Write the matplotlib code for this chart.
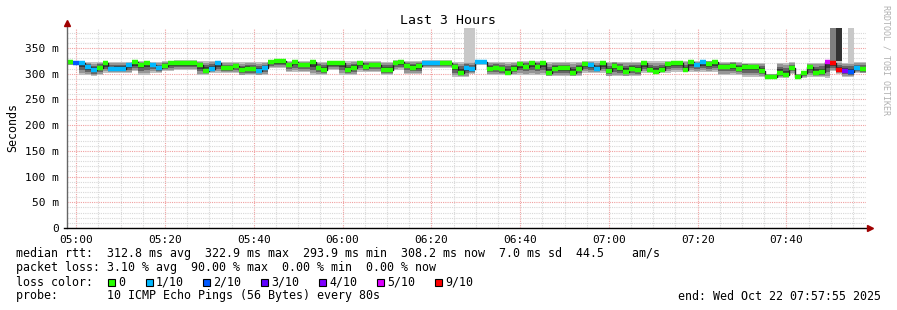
import datetime as dt
import matplotlib
matplotlib.use("Agg")
import matplotlib.pyplot as plt
import matplotlib.dates as mdates
from matplotlib.patches import Rectangle
from matplotlib.lines import Line2D

# --- data (one value per 80 s step, 04:57:55 -> 07:57:55) ---
start = dt.datetime(2025, 10, 22, 4, 57, 55)
step_s = 80

median_ms = [
    323, 321, 321, 313, 307, 311, 320, 309, 310, 310, 317, 322, 317, 320, 318, 312,
    315, 320, 320, 320, 320, 320, 317, 306, 310, 320, 312, 312, 316, 307, 310, 309,
    306, 312, 322, 324, 324, 317, 323, 318, 317, 322, 312, 307, 320, 320, 320, 307,
    312, 320, 314, 317, 317, 307, 307, 321, 323, 316, 312, 315, 321, 321, 321, 321,
    321, 314, 301, 311, 309, 322, 322, 310, 311, 309, 301, 310, 319, 314, 320, 314,
    320, 301, 310, 311, 311, 301, 310, 319, 317, 309, 320, 305, 316, 312, 304, 310,
    307, 320, 307, 304, 307, 319, 321, 321, 307, 322, 317, 322, 319, 322, 314, 314,
    316, 310, 314, 313, 313, 306, 294, 294, 302, 298, 311, 294, 301, 313, 302, 304,
    322, 320, 307, 306, 304, 311, 309,
]
loss = [
    0, 2, 1, 1, 1, 0, 0, 1, 1, 1, 1, 0, 0, 0, 1, 1,
    0, 0, 0, 0, 0, 0, 0, 0, 1, 1, 0, 0, 0, 0, 0, 0,
    1, 1, 0, 0, 0, 0, 0, 0, 0, 0, 0, 0, 0, 0, 0, 0,
    0, 0, 0, 0, 0, 0, 0, 0, 0, 0, 0, 0, 1, 1, 1, 0,
    0, 0, 0, 1, 1, 1, 1, 0, 0, 0, 0, 0, 0, 0, 0, 0,
    0, 0, 0, 0, 0, 0, 0, 0, 1, 1, 0, 0, 0, 0, 0, 0,
    0, 0, 0, 0, 0, 0, 0, 0, 0, 0, 1, 1, 0, 0, 0, 0,
    0, 0, 0, 0, 0, 0, 0, 0, 0, 0, 0, 0, 0, 0, 0, 0,
    5, 9, 9, 4, 2, 1, 0,
]
smoke_lo = [
    317, 317, 298, 297, 296, 298, 302, 302, 302, 302, 302, 305, 298, 298, 302, 302,
    305, 305, 308, 308, 308, 308, 297, 298, 302, 302, 302, 302, 302, 297, 297, 297,
    297, 297, 311, 311, 311, 304, 304, 304, 304, 298, 298, 298, 308, 308, 298, 298,
    298, 304, 304, 304, 304, 298, 298, 308, 308, 300, 300, 300, 311, 311, 311, 311,
    311, 294, 294, 294, 300, 318, 318, 298, 298, 298, 298, 298, 298, 298, 298, 298,
    298, 295, 295, 295, 295, 295, 295, 302, 302, 302, 302, 295, 295, 295, 295, 295,
    295, 302, 302, 302, 302, 302, 304, 304, 304, 304, 304, 304, 304, 304, 298, 298,
    298, 298, 294, 294, 294, 294, 294, 294, 292, 292, 300, 292, 292, 294, 294, 294,
    292, 305, 300, 294, 294, 301, 301,
]
smoke_hi = [
    325, 325, 323, 322, 322, 323, 324, 322, 322, 322, 322, 324, 324, 324, 322, 322,
    324, 324, 326, 326, 326, 326, 324, 324, 324, 324, 322, 322, 322, 322, 322, 322,
    322, 322, 326, 326, 326, 324, 324, 324, 324, 323, 323, 323, 325, 325, 324, 324,
    324, 324, 324, 324, 324, 323, 323, 326, 326, 324, 324, 324, 326, 326, 326, 326,
    326, 323, 323, 323, 323, 326, 326, 323, 323, 323, 323, 323, 324, 324, 324, 324,
    324, 322, 322, 322, 322, 322, 322, 324, 324, 324, 324, 323, 323, 323, 323, 323,
    323, 324, 324, 324, 324, 324, 325, 325, 325, 325, 325, 325, 325, 325, 323, 323,
    323, 323, 321, 321, 321, 321, 300, 300, 321, 321, 322, 300, 300, 321, 321, 321,
    324, 324, 324, 321, 321, 322, 322,
]
spike_idx = [67, 68, 129, 130, 132]
spike_shade = ["#c8c8c8", "#c8c8c8", "#7f7f7f", "#333333", "#c8c8c8"]

loss_levels = [0, 1, 2, 3, 4, 5, 9]
loss_labels = ["0", "1/10", "2/10", "3/10", "4/10", "5/10", "9/10"]
loss_colors = ["#26ff00", "#00b8ff", "#0059ff", "#5e00ff", "#7e00ff", "#dd00ff", "#ff0000"]
loss_col = dict(zip(loss_levels, loss_colors))

legend_lines = [
    "median rtt:  312.8 ms avg  322.9 ms max  293.9 ms min  308.2 ms now  7.0 ms sd  44.5    am/s",
    "packet loss: 3.10 % avg  90.00 % max  0.00 % min  0.00 % now",
    "loss color:",
    "probe:       10 ICMP Echo Pings (56 Bytes) every 80s",
]
end_text = "end: Wed Oct 22 07:57:55 2025"

# --- figure ---
W, H = 897, 310
FONT = "DejaVu Sans Mono"
plt.rcParams["font.family"] = FONT
fig = plt.figure(figsize=(W / 100, H / 100), dpi=100)
fig.patch.set_facecolor("white")
ax = fig.add_axes([67 / W, (H - 228) / H, 799 / W, 200 / H])
YTOP = 389

w = step_s / 86400.0
xs = [mdates.date2num(start + dt.timedelta(seconds=step_s * i)) for i in range(len(median_ms))]

# smoke: nested bands, lighter outside
shades = ["#c0c0c0", "#969696", "#646464", "#383838"]
fracs = [1.0, 0.85, 0.6, 0.35]
for sh, f in zip(shades, fracs):
    lo = [m - (m - l) * f for m, l in zip(median_ms, smoke_lo)]
    hi = [m + (h - m) * f for m, h in zip(median_ms, smoke_hi)]
    ax.bar(xs, [b - a for a, b in zip(lo, hi)], bottom=lo, width=w, align="edge",
           color=sh, linewidth=0, zorder=2)

for i, sh in zip(spike_idx, spike_shade):
    ax.bar(xs[i], YTOP + 5 - smoke_hi[i], bottom=smoke_hi[i], width=w, align="edge",
           color=sh, linewidth=0, zorder=2)

# median: thin black step line, then thick loss coloured segments
xe = xs + [xs[-1] + w]
ax.step(xe, median_ms + [median_ms[-1]], where="post", color="#202020", lw=1.0, zorder=3)
ax.hlines(median_ms, xs, [x + w for x in xs], colors=[loss_col[l] for l in loss],
          lw=3.2, zorder=4, capstyle="butt")

# axes
ax.set_xlim(xe[0], xe[-1])
ax.set_ylim(0, YTOP)
ax.xaxis.set_major_locator(mdates.MinuteLocator(byminute=[0, 20, 40]))
ax.xaxis.set_minor_locator(mdates.MinuteLocator(byminute=range(0, 60, 5)))
ax.xaxis.set_major_formatter(mdates.DateFormatter("%H:%M"))
ax.set_yticks(range(0, 351, 50))
ax.set_yticks(range(0, 381, 10), minor=True)
ax.set_yticklabels(["0"] + [f"{v} m" for v in range(50, 351, 50)])
ax.grid(which="minor", color="#d8d8d8", linestyle=(0, (1, 1)), lw=0.8, zorder=0)
ax.grid(which="major", color="#f0a0a0", linestyle=(0, (1, 1)), lw=0.8, zorder=1)
ax.set_axisbelow(True)
ax.tick_params(which="both", length=0, labelsize=8, colors="#000000", pad=6)
ax.tick_params(axis="x", pad=5)
for s in ["top", "right", "left", "bottom"]:
    ax.spines[s].set_visible(False)
ax.set_ylabel("Seconds", fontsize=8.4, labelpad=4)

# axis lines with arrows
fig.add_artist(Line2D([67 / W, 67 / W], [(H - 228) / H, (H - 24) / H], color="#666666", lw=1))
fig.add_artist(Line2D([64 / W, 868 / W], [(H - 228) / H, (H - 228) / H], color="#000000", lw=1))
fig.add_artist(Line2D([67 / W], [(H - 23) / H], marker="^", color="#a00000", ms=4, lw=0))
fig.add_artist(Line2D([870 / W], [(H - 228) / H], marker=">", color="#a00000", ms=4, lw=0))

fig.text(448 / W, 1 - 20 / H, "Last 3 Hours", ha="center", va="center", fontsize=9.5)
fig.text(886 / W, 1 - 5 / H, "RRDTOOL / TOBI OETIKER", rotation=270, ha="center", va="top",
         fontsize=6, color="#b0b0b0")

rows_y = [254, 268, 282, 296]
for t, y in zip(legend_lines, rows_y):
    fig.text(16 / W, 1 - y / H, t, ha="left", va="center", fontsize=8.4)
fig.text(881 / W, 1 - 296 / H, end_text, ha="right", va="center", fontsize=8.4)

sq_x = [108, 146, 203, 261, 319, 377, 435]
for x, lab, c in zip(sq_x, loss_labels, loss_colors):
    fig.add_artist(Rectangle((x / W, 1 - 286 / H), 7 / W, 7 / H, facecolor=c,
                             edgecolor="black", lw=0.8))
    fig.text((x + 10) / W, 1 - 282 / H, lab, ha="left", va="center", fontsize=8.4)

fig.savefig("out.png", dpi=100, facecolor="white")
